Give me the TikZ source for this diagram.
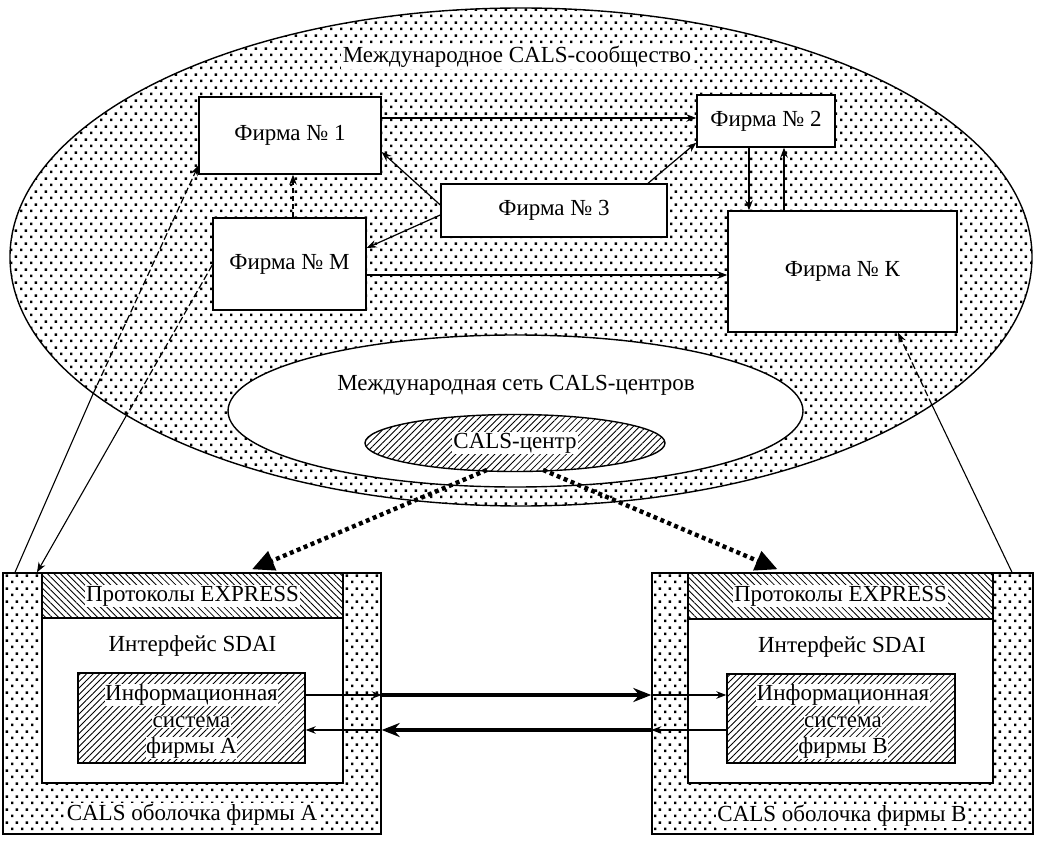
\documentclass[tikz,border=0pt]{standalone}
\usepackage{fontspec}
\setmainfont{Liberation Serif}
\usetikzlibrary{arrows.meta,patterns.meta,shapes.geometric}

\pgfdeclarepatternformonly{stipple}{\pgfpointorigin}{\pgfpoint{9.6pt}{12.8pt}}{\pgfpoint{9.6pt}{12.8pt}}{%
  \pgfpathrectangle{\pgfpoint{1.1pt}{1.9pt}}{\pgfpoint{2.5pt}{2.5pt}}%
  \pgfpathrectangle{\pgfpoint{5.9pt}{8.3pt}}{\pgfpoint{2.5pt}{2.5pt}}%
  \pgfusepath{fill}}

\tikzset{
  dotsfill/.style={pattern=stipple},
  hatchR/.style={pattern={Lines[angle=45,distance=4.6pt,line width=0.85pt]}},
  hatchL/.style={pattern={Lines[angle=-45,distance=4.6pt,line width=0.85pt]}},
  box/.style={draw, line width=1.4pt, inner sep=0pt},
  firm/.style={box, fill=white},
  lbl/.style={fill=white, inner sep=1.5pt},
  conn/.style={line width=1.2pt, -{Stealth[length=10pt,width=7.5pt]}},
  longline/.style={line width=1.1pt},
  longdash/.style={line width=1.2pt, dash pattern=on 7pt off 3pt},
  thickarrow/.style={line width=3.2pt, -{Stealth[length=18pt,width=14pt]}},
  bigdots/.style={line width=4.4pt, dash pattern=on 4pt off 3.5pt, -{Triangle[length=22pt,width=20pt]}},
}

\begin{document}
\begin{tikzpicture}[x=1pt,y=-1pt, font=\fontsize{23}{27}\selectfont]
\useasboundingbox (0,0) rectangle (1037,845);

% community ellipse
\path[draw, line width=1.4pt, dotsfill] (521,257) ellipse [x radius=511pt, y radius=249pt];
\node[lbl] (comm) at (517,57) {Международное CALS-сообщество};

% network of CALS centres
\path[draw, line width=1.4pt, fill=white] (515.5,411) ellipse [x radius=287.5pt, y radius=76pt];
\node[inner sep=1pt] (net) at (516,385) {Международная сеть CALS-центров};
\node[box, ellipse, hatchR, minimum width=300pt, minimum height=57pt] (cals) at (515,443) {};
\node[lbl, inner sep=1pt] (calslbl) at (515,443) {CALS-центр};

% firms
\node[firm, minimum width=182pt, minimum height=77pt] (f1) at (290,135.5) {Фирма №~1};
\node[firm, minimum width=138pt, minimum height=52pt] (f2) at (766,121) {Фирма №~2};
\node[firm, minimum width=226pt, minimum height=53pt] (f3) at (554,210.5) {Фирма №~3};
\node[firm, minimum width=153pt, minimum height=92pt] (fm) at (289.5,264) {Фирма №~М};
\node[firm, minimum width=229pt, minimum height=121pt] (fk) at (842.5,271.5) {Фирма №~К};

% connections between firms
\draw[conn] ([yshift=17.5pt]f1.east) -- ([yshift=3pt]f2.west);
\draw[conn] ([xshift=94pt]f3.north) -- ([yshift=5pt]f2.south west);
\draw[conn] ([yshift=5.5pt]f3.west) -- ([yshift=-16.5pt]f1.east);
\draw[conn] ([yshift=-4.5pt]f3.west) -- ([yshift=16pt]fm.east);
\draw[conn, dash pattern=on 5pt off 3pt] ([xshift=3.5pt]fm.north) -- ([xshift=3pt]f1.south);
\draw[conn] ([yshift=-11pt]fm.east) -- ([yshift=-3.5pt]fk.west);
\draw[conn] ([xshift=-17pt]f2.south) -- ([xshift=-93.5pt]fk.north);
\draw[conn] ([xshift=-58.5pt]fk.north) -- ([xshift=18pt]f2.south);

% shell A
\node[box, dotsfill, minimum width=378pt, minimum height=261pt] (shellA) at (192,703.5) {};
\node[box, fill=white, minimum width=301pt, minimum height=210pt] (sdaiA) at (192.5,678) {};
\node[box, hatchL, minimum width=301pt, minimum height=45pt] (expA) at (192.5,595.5) {};
\node[lbl, inner sep=1pt] (expAl) at (192.5,596) {Протоколы EXPRESS};
\node[inner sep=1pt] (sdaiAl) at (192.5,646) {Интерфейс SDAI};
\node[box, hatchR, minimum width=227pt, minimum height=90pt] (infoA) at (191.5,718) {};
\node[lbl, inner sep=0.5pt] (infoA1) at (191.5,695) {Информационная};
\node[lbl, inner sep=0.5pt] (infoA2) at (191.5,722) {система};
\node[lbl, inner sep=0.5pt] (infoA3) at (191.5,748) {фирмы А};
\node[lbl] (shellAl) at (192,815) {CALS оболочка фирмы А};

% shell B
\node[box, dotsfill, minimum width=381pt, minimum height=261pt] (shellB) at (842.5,703.5) {};
\node[box, fill=white, minimum width=305pt, minimum height=210pt] (sdaiB) at (840.5,678) {};
\node[box, hatchL, minimum width=305pt, minimum height=46pt] (expB) at (840.5,596) {};
\node[lbl, inner sep=1pt] (expBl) at (840.5,596) {Протоколы EXPRESS};
\node[inner sep=1pt] (sdaiBl) at (842,647) {Интерфейс SDAI};
\node[box, hatchR, minimum width=228pt, minimum height=89pt] (infoB) at (841,718.5) {};
\node[lbl, inner sep=0.5pt] (infoB1) at (843,695) {Информационная};
\node[lbl, inner sep=0.5pt] (infoB2) at (843,722) {система};
\node[lbl, inner sep=0.5pt] (infoB3) at (843,748) {фирмы В};
\node[lbl] (shellBl) at (842,816) {CALS оболочка фирмы В};

% exchange between the shells
\coordinate (yU) at (0,695);
\coordinate (yL) at (0,730);
\draw[conn] (infoA.east |- yU) -- (shellA.east |- yU);
\draw[thickarrow] (shellA.east |- yU) -- (shellB.west |- yU);
\draw[conn] (shellB.west |- yU) -- (infoB.west |- yU);
\draw[conn] (infoB.west |- yL) -- (shellB.west |- yL);
\draw[thickarrow] (shellB.west |- yL) -- (shellA.east |- yL);
\draw[conn] (shellA.east |- yL) -- (infoA.east |- yL);

% links from CALS centre to shells
\draw[bigdots] ([xshift=-28pt,yshift=2pt]cals.south) -- ([xshift=60pt,yshift=3pt]shellA.north);
\draw[bigdots] ([xshift=28pt,yshift=2pt]cals.south) -- ([xshift=-65pt,yshift=3pt]shellB.north);

% long links between shells and firms
\coordinate (x1) at (93,394);
\coordinate (x2) at (126.6,415.2);
\coordinate (x3) at (932,405);
\draw[longline] ([xshift=-177pt]shellA.north) -- (x1);
\draw[longdash, -{Stealth[length=10pt,width=7.5pt]}] (x1) -- ([yshift=9pt]f1.south west);
\draw[longdash] ([yshift=-1pt]fm.west) -- (x2);
\draw[longline, -{Stealth[length=10pt,width=7.5pt]}] (x2) -- ([xshift=-155pt]shellA.north);
\draw[longline] ([xshift=169.5pt]shellB.north) -- (x3);
\draw[longdash, -{Stealth[length=10pt,width=7.5pt]}] (x3) -- ([xshift=55.5pt]fk.south);
\end{tikzpicture}
\end{document}
